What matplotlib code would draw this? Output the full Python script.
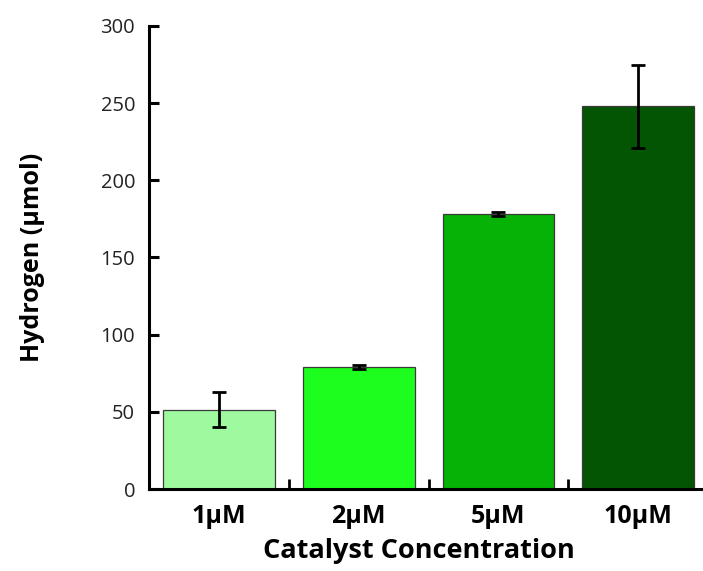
import matplotlib
matplotlib.use('Agg')
import matplotlib.pyplot as plt
from matplotlib.ticker import FixedLocator, MultipleLocator

# data
conc = ['1μM', '2μM', '5μM', '10μM']
h2 = [51.5, 79.0, 178.2, 248.0]
h2_err = [11.4, 1.5, 1.0, 27.0]
colors = ['#9ff99f', '#1efe1e', '#05b205', '#035503']

plt.rcParams['font.family'] = ['Open Sans', 'DejaVu Sans']

fig = plt.figure(figsize=(7.03, 5.71), dpi=100)
ax = fig.add_axes([0.212, 0.1436, 0.788, 0.8109])

x = range(len(conc))
ax.bar(x, h2, width=0.8, color=colors, edgecolor='#3a3a3a', linewidth=0.9, zorder=2)
ax.errorbar(x, h2, yerr=h2_err, fmt='none', ecolor='black', elinewidth=2,
            capsize=5, capthick=2, zorder=3)

ax.set_xlim(-0.5, 3.464)
ax.set_ylim(0, 300)

ax.yaxis.set_major_locator(MultipleLocator(50))
ax.set_xticks(list(x))
ax.set_xticklabels(conc, fontsize=18, fontweight='bold')
ax.xaxis.set_minor_locator(FixedLocator([0.5, 1.5, 2.5]))

for s in ['top', 'right']:
    ax.spines[s].set_visible(False)
for s in ['left', 'bottom']:
    ax.spines[s].set_linewidth(2.2)

ax.tick_params(axis='y', which='major', direction='in', length=7, width=2.2,
               labelsize=14.5, pad=10, colors='black', labelcolor='#222222')
ax.tick_params(axis='x', which='major', length=0, pad=11)
ax.tick_params(axis='x', which='minor', direction='in', length=7, width=2)

ax.set_xlabel('Catalyst Concentration', fontsize=19.5, fontweight='bold')
ax.set_ylabel('Hydrogen (μmol)', fontsize=18, fontweight='bold')
ax.xaxis.set_label_coords(0.487, -0.105)
ax.yaxis.set_label_coords(-0.187, 0.5)

fig.savefig('out.png', dpi=100)
